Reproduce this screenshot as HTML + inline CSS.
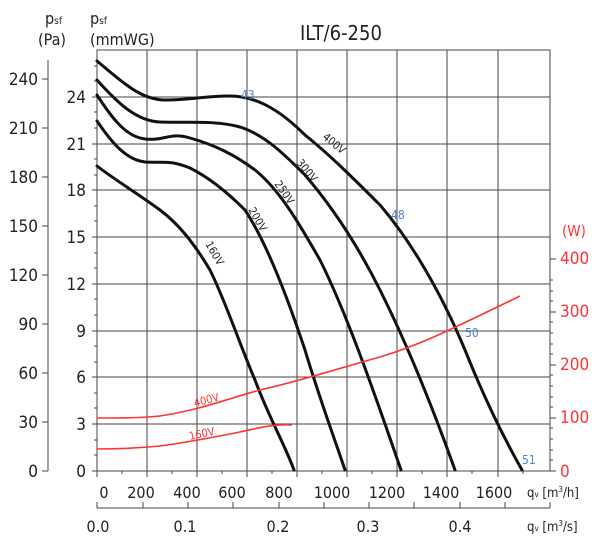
<!DOCTYPE html><html><head><style>body{margin:0;background:#fff}svg{font-family:"DejaVu Sans Condensed","Liberation Sans Narrow","Liberation Sans",sans-serif}</style></head><body>
<svg width="600" height="545" viewBox="0 0 600 545" xmlns="http://www.w3.org/2000/svg">
<g stroke="#444" stroke-width="1" fill="none">
<rect x="97" y="50" width="453" height="421"/>
<path d="M147 50V471M197 50V471M247 50V471M297 50V471M347 50V471M397 50V471M447 50V471M498 50V471"/>
<path d="M97 97H550M97 144H550M97 190H550M97 237H550M97 284H550M97 331H550M97 377H550M97 424H550"/>
<path d="M48 60V471M42 79H48M42 128H48M42 177H48M42 226H48M42 275H48M42 324H48M42 373H48M42 422H48M42 471H48"/>
<path d="M92 97H97M92 144H97M92 190H97M92 237H97M92 284H97M92 331H97M92 377H97M92 424H97M92 471H97"/>
<path d="M550 240V471M550 259H556M550 312H556M550 365H556M550 418H556M550 471H556"/>
<path d="M97 471V477M147 471V477M197 471V477M247 471V477M297 471V477M347 471V477M397 471V477M447 471V477M498 471V477"/>
<path d="M97 508H550M97 508V502M143 508V502M188 508V502M233 508V502M279 508V502M324 508V502M369 508V502M414 508V502M460 508V502M505 508V502M550 508V502"/>
</g>
<g stroke="#444" stroke-width="1" fill="none">
<path d="M94 66H97M94 81H97M94 112H97M94 128H97M94 159H97M94 175H97M94 206H97M94 221H97M94 253H97M94 268H97M94 299H97M94 315H97M94 346H97M94 362H97M94 393H97M94 408H97M94 440H97M94 455H97"/>
<path d="M550 280H553M550 291H553M550 301H553M550 322H553M550 333H553M550 344H553M550 354H553M550 375H553M550 386H553M550 397H553M550 407H553M550 428H553M550 439H553M550 450H553M550 460H553"/>
<path d="M122 471V474M172 471V474M222 471V474M272 471V474M322 471V474M372 471V474M422 471V474M472 471V474M523 471V474"/>
</g>
<g stroke="#111" stroke-width="3" fill="none" stroke-linecap="round">
<path d="M97 61C120 80 140 100 165 100C190 100 205 96 230 96C260 96 285 115 305 135C330 155 355 180 380 205C410 240 440 290 465 350C485 400 505 440 522 470"/>
<path d="M97 80C115 100 135 121 160 122C185 123 215 120 240 127C265 135 285 155 305 175C335 210 360 250 380 290C405 340 430 400 455 470"/>
<path d="M97 95C110 115 125 137 145 139C165 141 170 132 190 138C215 145 235 155 255 170C280 190 300 225 320 260C345 310 370 380 401 470"/>
<path d="M97 121C110 140 125 160 145 162C165 163 170 160 190 168C210 178 230 195 245 210C265 240 285 290 305 350C320 400 335 440 345 470"/>
<path d="M97 166C115 180 140 195 160 210C180 225 195 245 210 270C225 300 240 345 255 380C270 420 285 445 294 470"/>
</g>
<g stroke="#f33" stroke-width="1.6" fill="none">
<path d="M97 418C120 418 140 418 160 416C200 410 230 398 260 390C300 381 340 368 380 357C420 345 450 330 520 296"/>
<path d="M97 449C120 449 140 448 160 446C190 442 215 437 240 432C260 428 270 424 292 425"/>
</g>
<g fill="#222" font-size="17" text-anchor="end">
<text x="38" y="85">240</text><text x="38" y="134">210</text><text x="38" y="183">180</text><text x="38" y="232">150</text><text x="38" y="281">120</text><text x="38" y="330">90</text><text x="38" y="379">60</text><text x="38" y="428">30</text><text x="38" y="477">0</text>
<text x="86" y="103">24</text><text x="86" y="150">21</text><text x="86" y="196">18</text><text x="86" y="243">15</text><text x="86" y="290">12</text><text x="86" y="337">9</text><text x="86" y="383">6</text><text x="86" y="430">3</text><text x="86" y="477">0</text>
</g>
<g fill="#f33" font-size="17"><text x="560" y="264">400</text><text x="560" y="317">300</text><text x="560" y="370">200</text><text x="560" y="423">100</text><text x="560" y="477">0</text><text x="562" y="236" font-size="15">(W)</text></g>
<g fill="#222" font-size="16" text-anchor="middle">
<text x="104" y="498">0</text><text x="141" y="498">200</text><text x="187" y="498">400</text><text x="232" y="498">600</text><text x="279" y="498">800</text><text x="332" y="498">1000</text><text x="387" y="498">1200</text><text x="441" y="498">1400</text><text x="494" y="498">1600</text>
<text x="98" y="532">0.0</text><text x="185" y="532">0.1</text><text x="278" y="532">0.2</text><text x="368" y="532">0.3</text><text x="460" y="532">0.4</text>
</g>
<g fill="#222" font-size="13"><text x="527" y="497">q<tspan font-size="8">v</tspan> [m<tspan font-size="8" dy="-5">3</tspan><tspan dy="5">/h]</tspan></text><text x="527" y="531">q<tspan font-size="8">v</tspan> [m<tspan font-size="8" dy="-5">3</tspan><tspan dy="5">/s]</tspan></text></g>
<g fill="#222" font-size="16"><text x="45" y="24">p<tspan font-size="10">sf</tspan></text><text x="38" y="45">(Pa)</text><text x="90" y="24">p<tspan font-size="10">sf</tspan></text><text x="90" y="45">(mmWG)</text><text x="300" y="40" font-size="20">ILT/6-250</text></g>
<g fill="#5580cc" font-size="12"><text x="241" y="99">43</text><text x="391" y="219">48</text><text x="465" y="337">50</text><text x="522" y="464">51</text></g>
<g fill="#222" font-size="11">
<text transform="translate(322,138) rotate(40)">400V</text>
<text transform="translate(296,163) rotate(50)">300V</text>
<text transform="translate(274,184) rotate(55)">250V</text>
<text transform="translate(248,210) rotate(60)">200V</text>
<text transform="translate(205,244) rotate(60)">160V</text>
</g>
<g fill="#f33" font-size="11"><text transform="translate(195,407) rotate(-15)">400V</text><text transform="translate(190,440) rotate(-12)">160V</text></g>
</svg></body></html>
